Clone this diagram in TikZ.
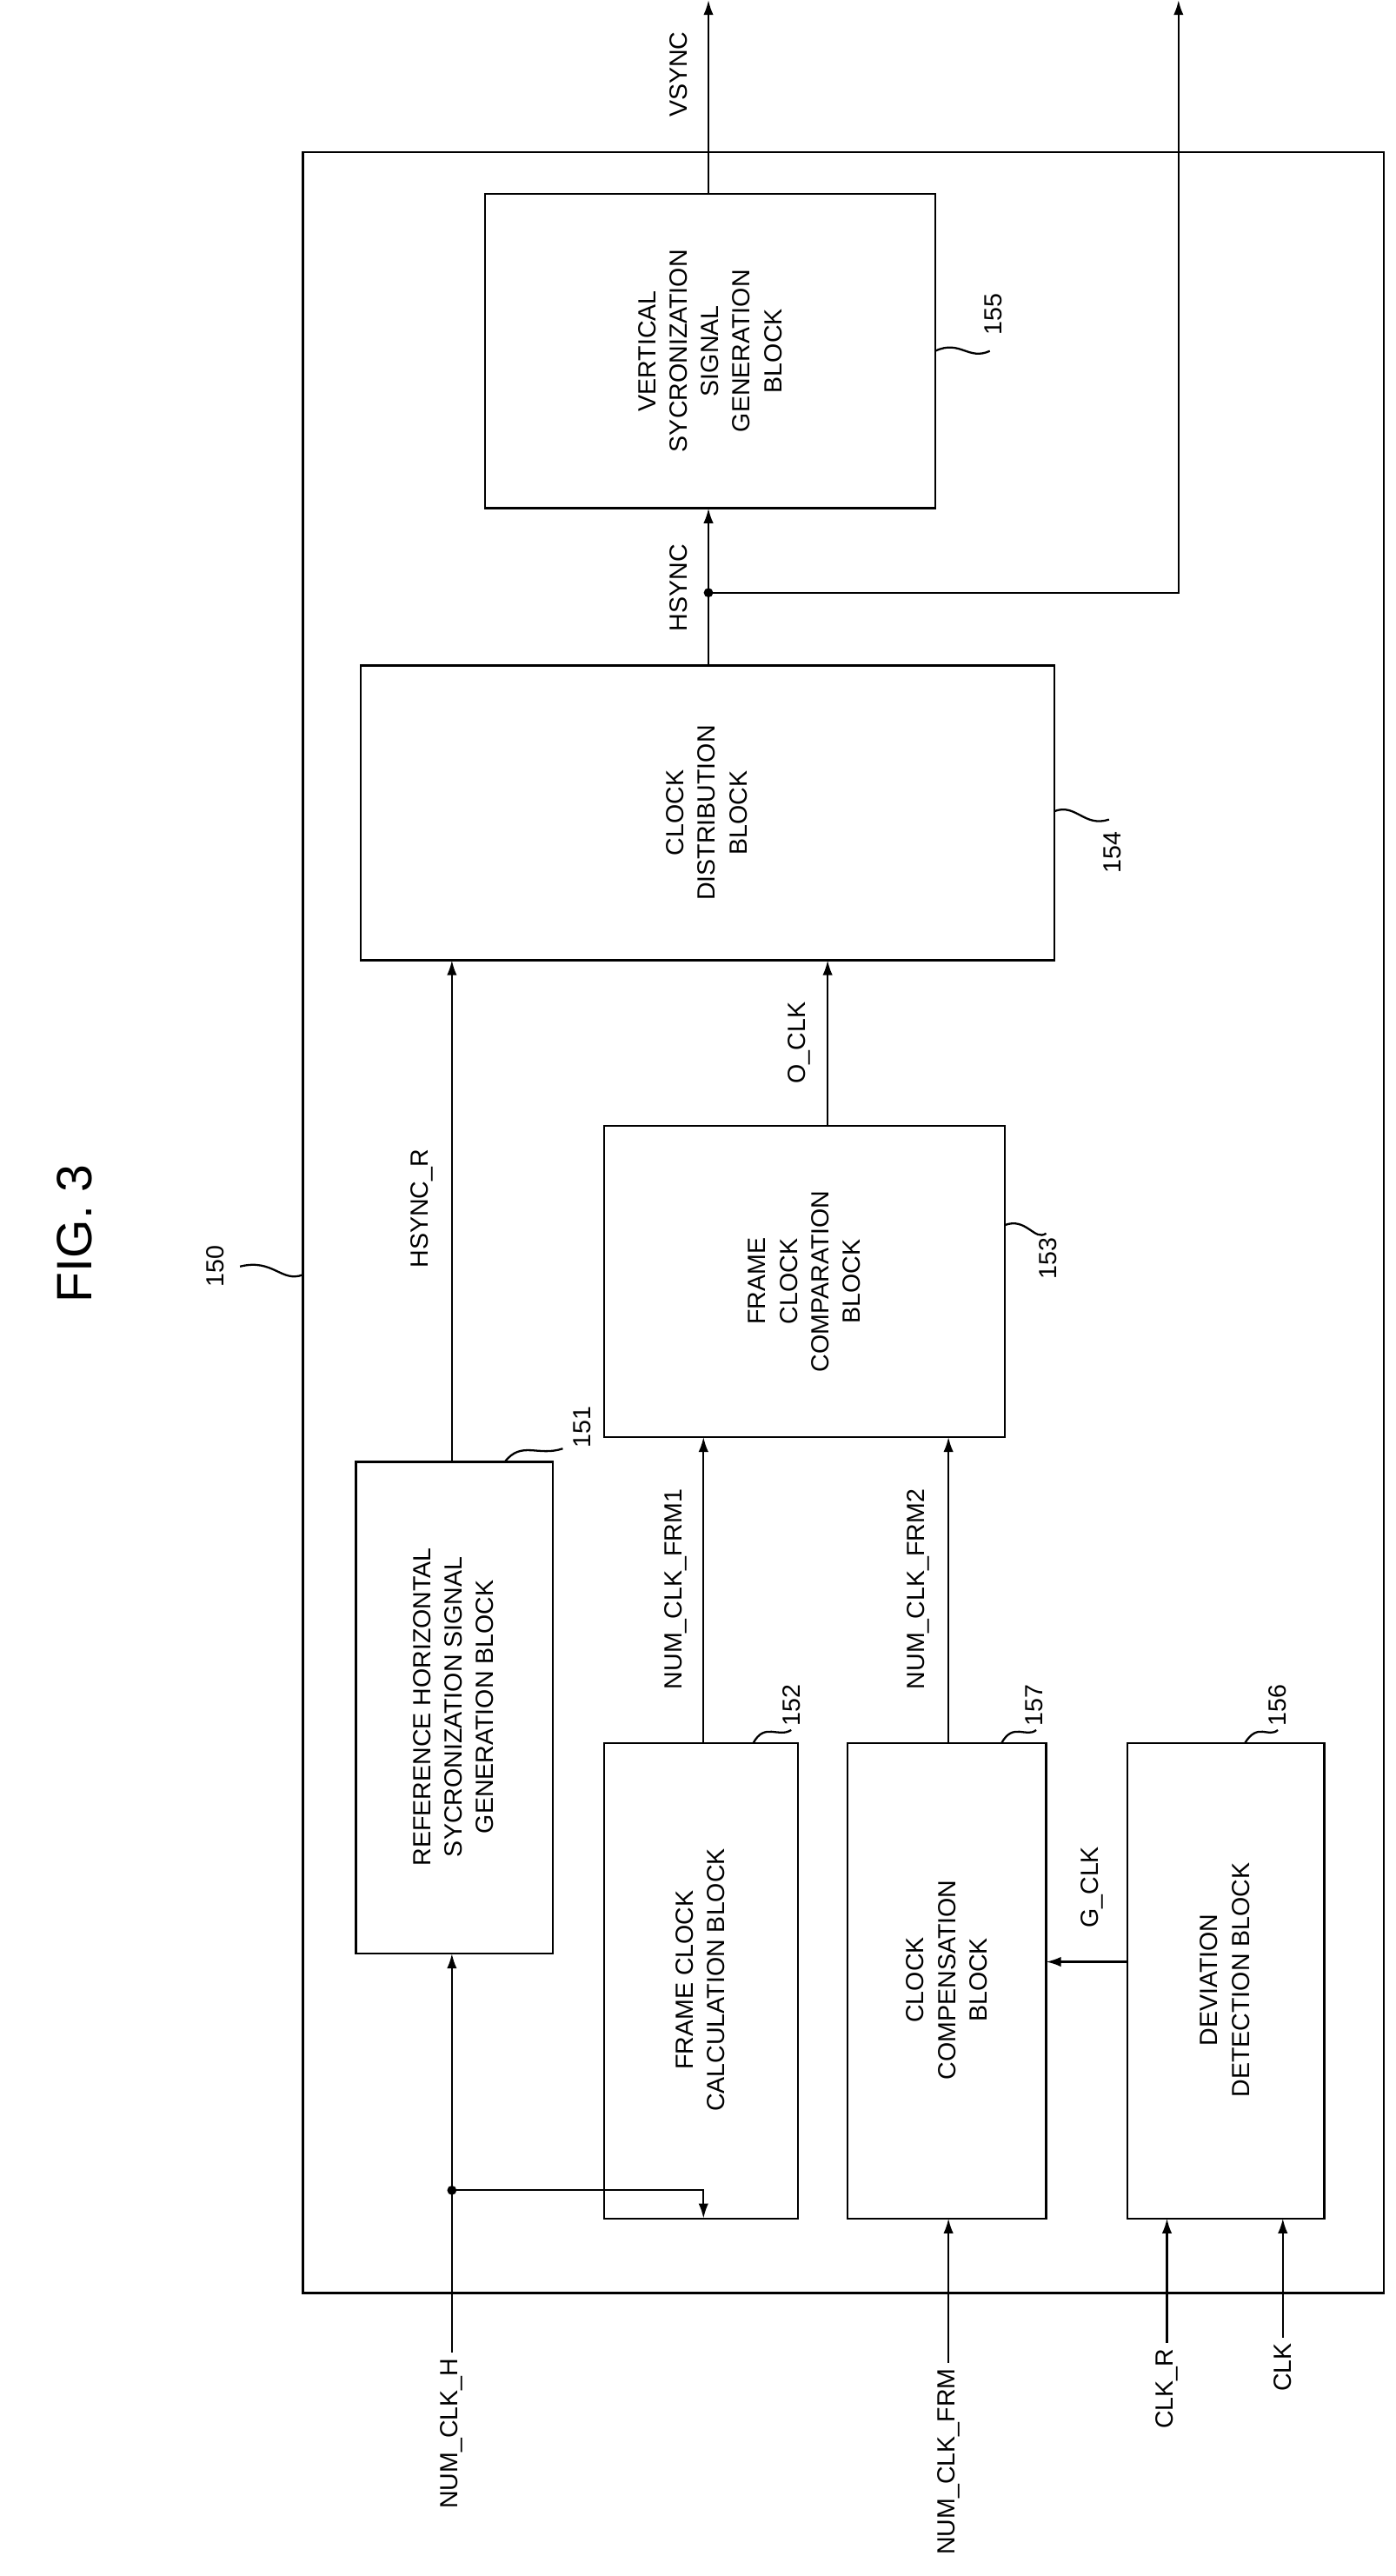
\documentclass[tikz,border=0pt]{standalone}
\usepackage{fontspec}
\setmainfont{Liberation Sans}
\usetikzlibrary{arrows.meta}
\begin{document}
\begin{tikzpicture}[x=1pt,y=-1pt,
  box/.style={draw,line width=1.2pt},
  lbl/.style={rotate=90,font=\fontsize{15}{19}\selectfont,align=center},
  ar/.style={line width=1.2pt,-{Latex[length=9pt,width=6pt]}},
  ln/.style={line width=1.2pt},
  dot/.style={circle,fill,inner sep=2pt}]
\useasboundingbox (0,0) rectangle (843,1556);
\node[lbl,font=\fontsize{30}{36}\selectfont] (fig) at (45,745) {FIG. 3};
% outer
\draw[box] (183,92) rectangle (836,1385);
\node[lbl] (n150) at (130,765) {150};
\draw[ln] (145,765) .. controls (165,760) and (170,775) .. (183,770);
% boxes
\draw[box] (293,117) rectangle (565,307);
\node[lbl] (b155) at (429,212) {VERTICAL\\SYCRONIZATION\\SIGNAL\\GENERATION\\BLOCK};
\draw[box] (218,402) rectangle (637,580);
\node[lbl] (b154) at (427,491) {CLOCK\\DISTRIBUTION\\BLOCK};
\draw[box] (365,680) rectangle (607,868);
\node[lbl] (b153) at (486,774) {FRAME\\CLOCK\\COMPARATION\\BLOCK};
\draw[box] (215,883) rectangle (334,1180);
\node[lbl] (b151) at (274,1031) {REFERENCE HORIZONTAL\\SYCRONIZATION SIGNAL\\GENERATION BLOCK};
\draw[box] (365,1053) rectangle (482,1340);
\node[lbl] (b152) at (423,1196) {FRAME CLOCK\\CALCULATION BLOCK};
\draw[box] (512,1053) rectangle (632,1340);
\node[lbl] (b157) at (572,1196) {CLOCK\\COMPENSATION\\BLOCK};
\draw[box] (681,1053) rectangle (800,1340);
\node[lbl] (b156) at (740,1196) {DEVIATION\\DETECTION BLOCK};
% ref labels
\node[lbl] (l155) at (600,190) {155};
\draw[ln] (565,212) .. controls (580,205) and (585,218) .. (598,212);
\node[lbl] (l154) at (672,515) {154};
\draw[ln] (637,490) .. controls (650,485) and (655,500) .. (670,495);
\node[lbl] (l153) at (633,760) {153};
\draw[ln] (607,740) .. controls (620,735) and (625,750) .. (632,745);
\node[lbl] (l151) at (352,862) {151};
\draw[ln] (305,883) .. controls (315,870) and (325,880) .. (340,875);
\node[lbl] (l152) at (478,1030) {152};
\draw[ln] (455,1053) .. controls (462,1040) and (470,1050) .. (478,1045);
\node[lbl] (l157) at (625,1030) {157};
\draw[ln] (605,1053) .. controls (612,1040) and (620,1050) .. (626,1045);
\node[lbl] (l156) at (772,1030) {156};
\draw[ln] (752,1053) .. controls (760,1040) and (766,1050) .. (772,1045);
% connectors
\coordinate (vs) at (428,0);
\coordinate (ho) at (712,0);
\draw[ar] (428,117) -- (vs);
\node[lbl] (tvs) at (410,45) {VSYNC};
\draw[ar] (428,402) -- (428,307);
\node[dot] (hd) at (428,358) {};
\draw[ar] (hd.center) -- (712,358) -- (ho);
\node[lbl] (ths) at (410,355) {HSYNC};
\draw[ar] (273,883) -- (273,580);
\node[lbl] (thr) at (255,730) {HSYNC\_R};
\draw[ar] (500,680) -- (500,580);
\node[lbl] (toc) at (483,630) {O\_CLK};
\draw[ar] (425,1053) -- (425,868);
\node[lbl] (tf1) at (408,960) {NUM\_CLK\_FRM1};
\draw[ar] (573,1053) -- (573,868);
\node[lbl] (tf2) at (555,960) {NUM\_CLK\_FRM2};
\draw[ar] (681,1185) -- (632,1185);
\node[lbl] (tg) at (660,1140) {G\_CLK};
% inputs
\node[lbl] (inh) at (273,1470) {NUM\_CLK\_H};
\node[lbl] (inf) at (573,1487) {NUM\_CLK\_FRM};
\node[lbl] (inr) at (705,1443) {CLK\_R};
\node[lbl] (inc) at (775,1430) {CLK};
\draw[ar] (inh.east) -- (273,1180);
\node[dot] (hd2) at (273,1323) {};
\draw[ar] (hd2.center) -- (425,1323) -- (425,1340);
\draw[ar] (inf.east) -- (573,1340);
\draw[ar] (inr.east) -- (705,1340);
\draw[ar] (inc.east) -- (775,1340);
\end{tikzpicture}
\end{document}
